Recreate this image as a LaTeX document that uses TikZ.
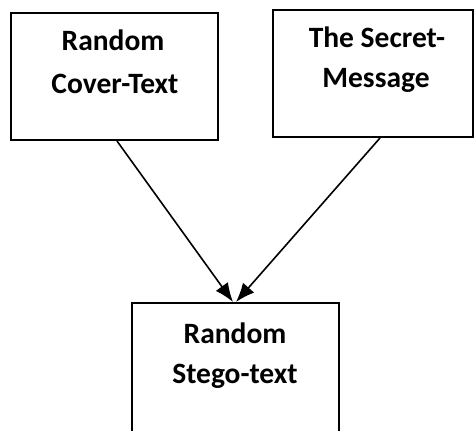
\documentclass[tikz,border=0pt]{standalone}
\usepackage{fontspec}
\setmainfont{Carlito}
\usetikzlibrary{arrows.meta}
\begin{document}
\begin{tikzpicture}[x=1pt,y=-1pt,
  box/.style={draw,line width=2pt,minimum width=#1,inner sep=0pt},
  label/.style={font=\bfseries\fontsize{29.5}{36}\selectfont,anchor=base,inner sep=0pt},
  flow/.style={line width=1.6pt,-{Latex[length=19pt,width=15pt]}}]
  % page area; the lower box runs off its bottom edge
  \clip (0,0) rectangle (475,431);
  \fill[white] (0,0) rectangle (475,431);

  % boxes
  \node[box=207pt,minimum height=127pt] (cover)  at (114.5,76.5) {};
  \node[box=200pt,minimum height=127pt] (secret) at (373,73.5)  {};
  \node[box=207pt,minimum height=142pt] (stego)  at (235.5,374) {};

  % box texts
  \node[label] (c1) at (113,50)  {Random};
  \node[label] (c2) at (115,93)  {Cover-Text};
  \node[label] (s1) at (377,47)  {The Secret-};
  \node[label] (s2) at (376,88)  {Message};
  \node[label] (g1) at (235,343) {Random};
  \node[label] (g2) at (235,383) {Stego-text};

  % connectors
  \draw[flow] ([xshift=2.5pt]cover.south) -- ([xshift=-2.5pt]stego.north);
  \draw[flow] ([xshift=7pt]secret.south) -- ([xshift=0.5pt]stego.north);
\end{tikzpicture}
\end{document}
